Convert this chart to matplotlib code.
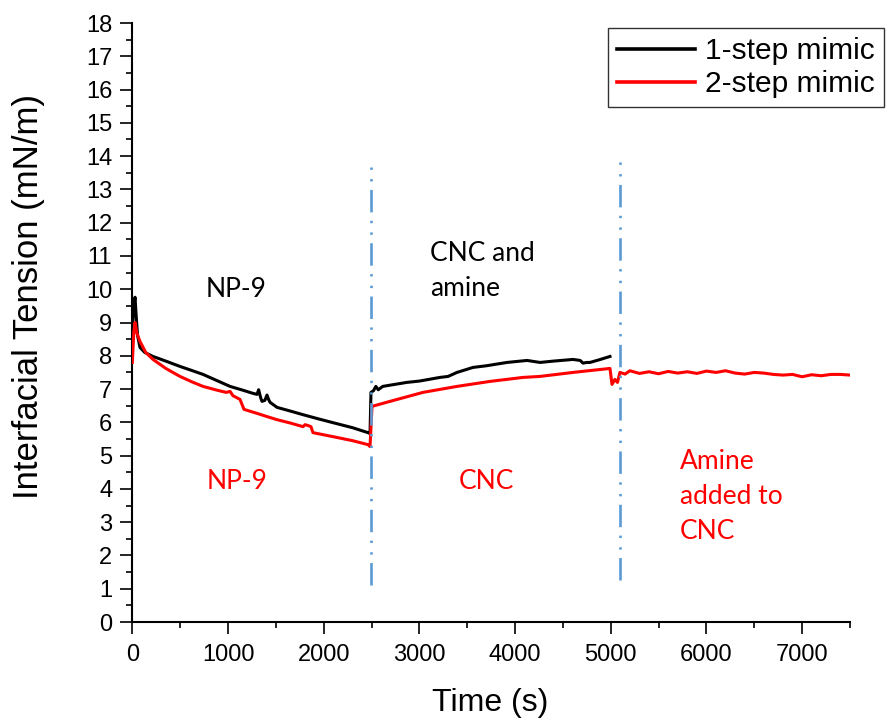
import matplotlib
matplotlib.use('Agg')
import matplotlib.pyplot as plt
from matplotlib.ticker import MultipleLocator

# 1-step mimic (black)
t_one = [0, 10, 20, 28, 40, 55, 80, 130, 216, 350, 498, 620, 739, 880, 1021,
         1150, 1250, 1303, 1320, 1340, 1355, 1385, 1407, 1425, 1440, 1512, 1650,
         1784, 1950, 2097, 2300, 2463, 2484,
         2494, 2520, 2545, 2570, 2617, 2700, 2868, 3000, 3215, 3300, 3393, 3560,
         3700, 3916, 4125, 4261, 4400, 4606, 4680, 4710, 4750, 4783, 4880, 4992]
y_one = [8.6, 9.3, 9.6, 9.76, 9.2, 8.6, 8.25, 8.1, 7.98, 7.84, 7.68, 7.56, 7.44, 7.26, 7.08,
         6.97, 6.88, 6.84, 6.98, 6.75, 6.63, 6.66, 6.82, 6.68, 6.6, 6.45, 6.34,
         6.23, 6.1, 5.99, 5.84, 5.69, 5.66,
         6.9, 6.95, 7.08, 6.98, 7.08, 7.12, 7.2, 7.24, 7.35, 7.38, 7.5, 7.65,
         7.7, 7.8, 7.86, 7.8, 7.84, 7.89, 7.86, 7.78, 7.8, 7.8, 7.88, 7.98]

# 2-step mimic (red)
t_two = [0, 15, 28, 45, 80, 140, 216, 350, 498, 620, 739, 880, 980, 1021, 1052,
         1125, 1167, 1303, 1400, 1512, 1650, 1784, 1805, 1840, 1867, 1888, 2097,
         2300, 2463, 2484,
         2505, 2693, 3037, 3393, 3738, 4083, 4261, 4606, 4992, 5013, 5044, 5070,
         5096, 5150, 5200, 5300, 5400, 5500, 5600, 5700, 5800, 5900, 6000, 6100,
         6200, 6300, 6400, 6500, 6600, 6700, 6800, 6900, 7000, 7100, 7200, 7300,
         7400, 7500]
y_two = [7.8, 8.7, 9.0, 8.7, 8.43, 8.1, 7.89, 7.62, 7.38, 7.22, 7.08, 6.97, 6.9, 6.93, 6.8,
         6.69, 6.39, 6.27, 6.18, 6.08, 5.98, 5.87, 5.93, 5.9, 5.87, 5.69, 5.57,
         5.45, 5.33, 5.27,
         6.48, 6.63, 6.9, 7.08, 7.23, 7.35, 7.38, 7.5, 7.62, 7.14, 7.29, 7.2,
         7.5, 7.45, 7.55, 7.47, 7.52, 7.46, 7.53, 7.48, 7.52, 7.47, 7.54, 7.5,
         7.55, 7.48, 7.45, 7.5, 7.48, 7.44, 7.42, 7.44, 7.37, 7.43, 7.4, 7.44,
         7.44, 7.42]

# stage boundaries (vertical dash-dot-dot lines)
stage_t = [2490, 5100]
stage_lo = [1.1, 1.27]
stage_hi = [13.9, 14.07]

fig = plt.figure(figsize=(8.9, 7.19), dpi=100)
ax = fig.add_axes([0.1487, 0.1349, 0.8063, 0.8331])

ax.plot(t_one, y_one, color='black', lw=2.2, label='1-step mimic', zorder=3)
ax.plot(t_two, y_two, color='#ff0000', lw=2.2, label='2-step mimic', zorder=4)

for t, lo, hi in zip(stage_t, stage_lo, stage_hi):
    ax.plot([t, t], [lo, hi], color='#5b9bd5', lw=1.9,
            dashes=(8.5, 3.2, 0.9, 3.5, 0.9, 3.2), zorder=5)

ax.set_xlim(0, 7500)
ax.set_ylim(0, 18)
ax.xaxis.set_major_locator(MultipleLocator(1000))
ax.xaxis.set_minor_locator(MultipleLocator(500))
ax.yaxis.set_major_locator(MultipleLocator(1))
ax.yaxis.set_minor_locator(MultipleLocator(0.5))

for s in ['top', 'right']:
    ax.spines[s].set_visible(False)
for s in ['left', 'bottom']:
    ax.spines[s].set_linewidth(1.5)

ax.tick_params(which='major', length=8.5, width=1.2, direction='out', pad=6)
ax.tick_params(which='minor', length=4.5, width=1.2, direction='out')
ax.tick_params(axis='x', which='major', pad=7)
for lab in ax.get_xticklabels() + ax.get_yticklabels():
    lab.set_fontfamily('Liberation Sans')
    lab.set_fontsize(17)

ax.set_xlabel('Time (s)', fontfamily='Liberation Sans', fontsize=23, va='center')
ax.xaxis.set_label_coords(0.498, -0.135)
ax.set_ylabel('Interfacial Tension (mN/m)', fontfamily='Liberation Sans',
              fontsize=25, va='center')
ax.yaxis.set_label_coords(-0.145, 0.544)

txt = dict(fontfamily='Lato', fontsize=19, linespacing=1.5)
ax.text(1086, 10.0, 'NP-9', color='black', ha='center', va='center', **txt)
ax.text(3114, 10.54, 'CNC and\namine', color='black', ha='left', va='center', **txt)
ax.text(1096, 4.22, 'NP-9', color='#ff0000', ha='center', va='center', **txt)
ax.text(3696, 4.22, 'CNC', color='#ff0000', ha='center', va='center', **txt)
ax.text(5723, 3.77, 'Amine\nadded to\nCNC', color='#ff0000', ha='left', va='center', **txt)

leg = ax.legend(loc='upper left', bbox_to_anchor=(608 / 890, 1 - 28 / 719),
                bbox_transform=fig.transFigure, borderaxespad=0,
                prop={'family': 'Liberation Sans', 'size': 21.5},
                handlelength=2.6, handletextpad=0.35, labelspacing=0.18,
                borderpad=0.3, fancybox=False, framealpha=1)
leg.get_frame().set_edgecolor('#333333')
leg.get_frame().set_linewidth(1.0)
for line in leg.get_lines():
    line.set_linewidth(2.6)

fig.savefig('out.png', dpi=100)
